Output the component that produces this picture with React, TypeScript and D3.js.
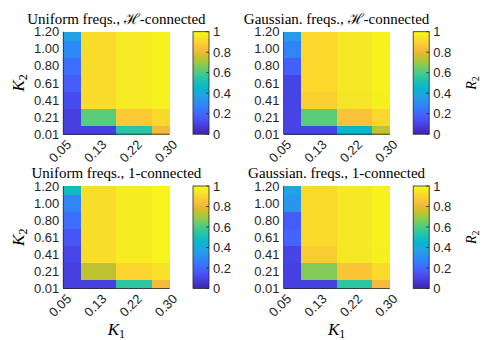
import React from "react";
import * as d3 from "d3";

// axis values (linspace in the original) and their printed tick labels
const k1Values = [0.05, 0.1333, 0.2167, 0.3];
const k1Labels = ["0.05", "0.13", "0.22", "0.30"];
const k2Values = [0.01, 0.2083, 0.4067, 0.605, 0.8033, 1.0017, 1.2];
const k2Labels = ["0.01", "0.21", "0.41", "0.61", "0.80", "1.00", "1.20"];
const cbTicks = [0, 0.2, 0.4, 0.6, 0.8, 1];

// R2 per cell: rows follow k2Values (0.01 first), columns follow k1Values
const uniformH = [
  [0.09, 0.09, 0.54, 0.81],
  [0.09, 0.62, 0.87, 0.91],
  [0.12, 0.92, 0.955, 0.975],
  [0.17, 0.92, 0.955, 0.975],
  [0.22, 0.92, 0.955, 0.975],
  [0.29, 0.92, 0.955, 0.975],
  [0.37, 0.92, 0.955, 0.975],
];
const gaussianH = [
  [0.1, 0.1, 0.45, 0.74],
  [0.1, 0.62, 0.85, 0.91],
  [0.1, 0.89, 0.94, 0.97],
  [0.1, 0.91, 0.95, 0.975],
  [0.18, 0.91, 0.95, 0.975],
  [0.28, 0.91, 0.95, 0.975],
  [0.35, 0.91, 0.95, 0.975],
];
const uniform1 = [
  [0.09, 0.09, 0.55, 0.82],
  [0.09, 0.74, 0.9, 0.93],
  [0.11, 0.925, 0.96, 0.98],
  [0.15, 0.925, 0.96, 0.98],
  [0.22, 0.925, 0.96, 0.98],
  [0.28, 0.925, 0.96, 0.98],
  [0.48, 0.925, 0.96, 0.98],
];
const gaussian1 = [
  [0.09, 0.09, 0.55, 0.82],
  [0.09, 0.67, 0.86, 0.92],
  [0.1, 0.88, 0.95, 0.97],
  [0.19, 0.915, 0.95, 0.975],
  [0.17, 0.915, 0.95, 0.975],
  [0.33, 0.915, 0.95, 0.975],
  [0.38, 0.915, 0.95, 0.975],
];

// parula, sampled from the 64 colour map
const parulaIdx = [0, 4, 8, 12, 16, 20, 24, 28, 32, 36, 40, 44, 48, 52, 56, 60, 63];
const parulaHex = [
  "#3e26a8", "#4537d5", "#484df0", "#4563fd", "#327cfc", "#2b91ef",
  "#20a5e3", "#08b5d0", "#19bfb6", "#37c897", "#64cd6f", "#9dc943",
  "#d1bf27", "#f8ba3d", "#fccf30", "#f5e924", "#f9fb15",
];
const parula = d3
  .scaleLinear<string>()
  .domain(parulaIdx.map((i) => i / 63))
  .range(parulaHex)
  .interpolate(d3.interpolateRgb)
  .clamp(true);

const W = 492;
const H = 340;
const plotW = 106.2;
const plotH = 102.5;
const cbGap = 129.7;
const cbW = 16;
const axisColor = "#262626";
const tickFont = "'Liberation Sans', Arial, sans-serif";
const serif = "'Liberation Serif', 'Times New Roman', serif";

// cell edges: halfway between neighbours, cut at the first / last value
function cellEdges(v: number[]) {
  return v.map((d, i) => [
    i === 0 ? d : (v[i - 1] + d) / 2,
    i === v.length - 1 ? d : (d + v[i + 1]) / 2,
  ]);
}

function Panel({ left, top, title, data, showK1, showK2, showR2, id }) {
  const x = d3.scaleLinear().domain([k1Values[0], k1Values[k1Values.length - 1]]).range([left, left + plotW]);
  const y = d3.scaleLinear().domain([k2Values[0], k2Values[k2Values.length - 1]]).range([top + plotH, top]);
  const cb = d3.scaleLinear().domain([0, 1]).range([top + plotH, top]);
  const xe = cellEdges(k1Values);
  const ye = cellEdges(k2Values);
  const cbX = left + cbGap;
  const bottom = top + plotH;
  const gradStops = d3.range(0, 65).map((i) => i / 64);

  return (
    <g>
      <defs>
        <linearGradient id={`cb-${id}`} x1="0" y1="1" x2="0" y2="0">
          {gradStops.map((t) => (
            <stop key={t} offset={t} stopColor={parula(t)} />
          ))}
        </linearGradient>
      </defs>
      <text x={left + plotW / 2} y={top - 8} textAnchor="middle" fontFamily={serif} fontSize={15} fill="#000">
        {title}
      </text>
      {data.map((row, r) =>
        row.map((v, c) => (
          <rect
            key={`${r}-${c}`}
            x={x(xe[c][0])}
            y={y(ye[r][1])}
            width={x(xe[c][1]) - x(xe[c][0]) + 0.4}
            height={y(ye[r][0]) - y(ye[r][1]) + 0.4}
            fill={parula(v)}
            shapeRendering="crispEdges"
          />
        ))
      )}
      <line x1={left} x2={left + plotW} y1={bottom} y2={bottom} stroke={axisColor} strokeWidth={0.8} />
      <line x1={left} x2={left} y1={top} y2={bottom} stroke={axisColor} strokeWidth={0.8} />
      {k2Values.map((k, i) => (
        <text key={k} x={left - 4} y={y(k)} dy="0.35em" textAnchor="end" fontFamily={tickFont} fontSize={13} fill={axisColor}>
          {k2Labels[i]}
        </text>
      ))}
      {k1Values.map((k, i) => (
        <text
          key={k}
          transform={`translate(${x(k) + 5.5},${bottom + 8}) rotate(-45)`}
          dy="0.35em"
          textAnchor="end"
          fontFamily={tickFont}
          fontSize={13}
          fill={axisColor}
        >
          {k1Labels[i]}
        </text>
      ))}
      {showK2 && (
        <text transform={`translate(24,${top + plotH / 2}) rotate(-90)`} textAnchor="middle" fontFamily={serif} fontStyle="italic" fontSize={17}>
          K<tspan fontSize={12} fontStyle="normal" dy={3}>2</tspan>
        </text>
      )}
      {showK1 && (
        <text x={left + plotW / 2} y={335} textAnchor="middle" fontFamily={serif} fontStyle="italic" fontSize={17}>
          K<tspan fontSize={12} fontStyle="normal" dy={3}>1</tspan>
        </text>
      )}
      <rect x={cbX} y={top} width={cbW} height={plotH} fill={`url(#cb-${id})`} stroke={axisColor} strokeWidth={0.8} />
      {cbTicks.map((t) => (
        <g key={t}>
          <line x1={cbX + cbW - 3} x2={cbX + cbW} y1={cb(t)} y2={cb(t)} stroke={axisColor} strokeWidth={0.8} />
          <text x={cbX + cbW + 4} y={cb(t)} dy="0.35em" fontFamily={tickFont} fontSize={13} fill={axisColor}>
            {String(t)}
          </text>
        </g>
      ))}
      {showR2 && (
        <text transform={`translate(${cbX + cbW + 47},${top + plotH / 2}) rotate(-90)`} textAnchor="middle" fontFamily={serif} fontStyle="italic" fontSize={14}>
          R<tspan fontSize={10} fontStyle="normal" dy={3}>2</tspan>
        </text>
      )}
    </g>
  );
}

export default function App() {
  return (
    <svg width={W} height={H} style={{ position: "absolute", left: 0, top: 0, background: "#fff" }}>
      <rect width={W} height={H} fill="#fff" />
      <Panel id="a" left={63.3} top={31.7} title="Uniform freqs., ℋ-connected" data={uniformH} showK1={false} showK2={true} showR2={false} />
      <Panel id="b" left={283.5} top={31.7} title="Gaussian. freqs., ℋ-connected" data={gaussianH} showK1={false} showK2={false} showR2={true} />
      <Panel id="c" left={63.3} top={186} title="Uniform freqs., 1-connected" data={uniform1} showK1={true} showK2={true} showR2={false} />
      <Panel id="d" left={283.5} top={186} title="Gaussian. freqs., 1-connected" data={gaussian1} showK1={true} showK2={false} showR2={true} />
    </svg>
  );
}
